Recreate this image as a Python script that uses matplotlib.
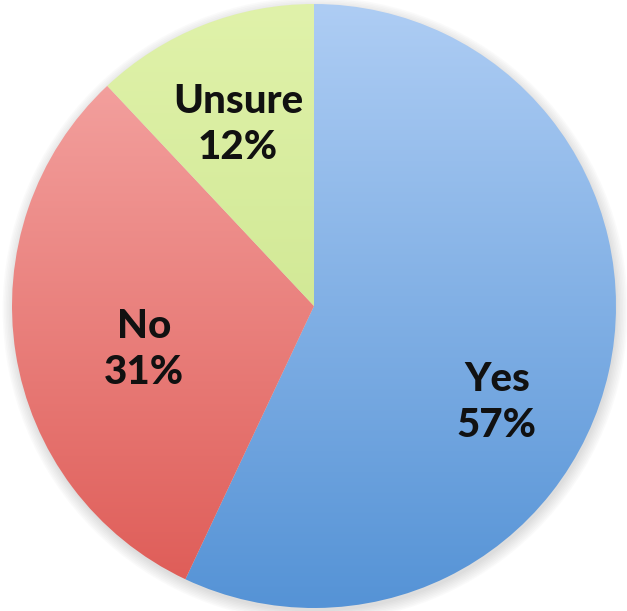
import numpy as np
import matplotlib.pyplot as plt
from matplotlib.colors import LinearSegmentedColormap
from matplotlib.patches import Circle

# survey answers
categories = ["Yes", "No", "Unsure"]
shares = [57, 31, 12]

# gradient fill for each slice, lighter at top, darker at bottom
top_colors = ["#AECDF4", "#F6AAA8", "#E0F2AA"]
bottom_colors = ["#5593D6", "#DE5A55", "#C4E083"]

# label placement relative to slice middle (radius, angle shift in degrees)
label_r = [0.684, 0.581, 0.653]
label_shift = [-15.1, 5.5, 1.1]

W, H = 627, 611
cx, cy, R = 314, 306, 302

fig = plt.figure(figsize=(W / 100, H / 100), dpi=100)
ax = fig.add_axes([0, 0, 1, 1])
ax.set_xlim(-cx / R, (W - cx) / R)
ax.set_ylim((cy - H) / R, cy / R)
ax.set_aspect("equal")
ax.axis("off")

# soft shadow under the pie
for k in range(8):
    ax.add_patch(Circle((0.004, -0.012), 1.0 + 0.005 * k, color="#888888",
                        alpha=0.035, lw=0, zorder=0))

wedges, _ = ax.pie(shares, startangle=90, counterclock=False, radius=1.0,
                   wedgeprops=dict(linewidth=0))

grad = np.linspace(0, 1, 256).reshape(-1, 1)
for w, c1, c2 in zip(wedges, top_colors, bottom_colors):
    w.set_facecolor("none")
    cmap = LinearSegmentedColormap.from_list("g", [c1, c2])
    im = ax.imshow(grad, cmap=cmap, extent=(-1, 1, -1, 1), origin="upper",
                   aspect="auto", zorder=1, interpolation="bilinear")
    im.set_clip_path(w)

for w, name, val, r, sh in zip(wedges, categories, shares, label_r, label_shift):
    mid = np.deg2rad((w.theta1 + w.theta2) / 2 + sh)
    ax.text(r * np.cos(mid), r * np.sin(mid), f"{name}\n{val}%",
            ha="center", va="center", fontsize=29, fontweight=900,
            family="Lato", color="#111111", linespacing=1.3, zorder=3)

ax.set_xlim(-cx / R, (W - cx) / R)
ax.set_ylim((cy - H) / R, cy / R)
fig.savefig("out.png", dpi=100, facecolor="white")
